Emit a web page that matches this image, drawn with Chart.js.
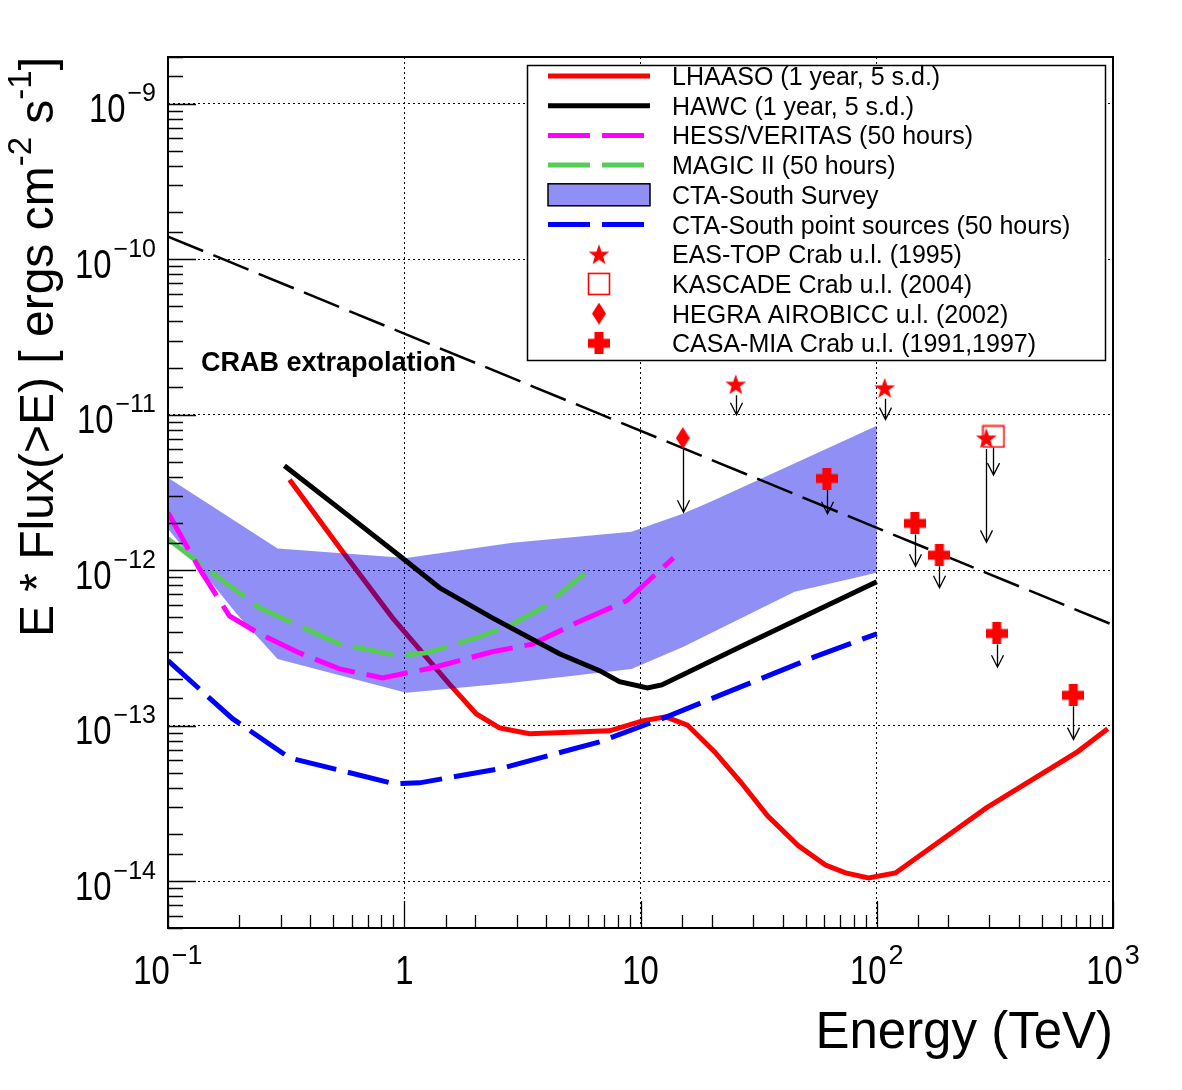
<!doctype html>
<html>

<head>
  <title>Gamma-ray sensitivity</title>
  <script src="https://cdn.jsdelivr.net/npm/chart.js@4.4.1/dist/chart.umd.min.js"></script>
  <style>
    html, body {
      margin: 0;
      padding: 0;
      background: #fff;
    }
    canvas {
      display: block;
    }
  </style>
</head>

<body>
  <canvas id="myChart" width="1182" height="1090"></canvas>

  <script>
    // energies in TeV, E*Flux(>E) in erg cm^-2 s^-1
    var lhaasoE = [0.327, 0.532, 0.892, 1.55, 2.02, 2.53, 3.39, 7.39, 10.2, 12.8, 15.8, 20.6, 26.5, 34.5, 46.6, 60.7, 73.8, 92.3, 120, 291, 707, 950];
    var lhaasoF = [3.82e-12, 1.40e-12, 4.94e-13, 1.86e-13, 1.19e-13, 9.69e-14, 8.87e-14, 9.27e-14, 1.075e-13, 1.14e-13, 1.01e-13, 6.79e-14, 4.36e-14, 2.63e-14, 1.69e-14, 1.27e-14, 1.13e-14, 1.05e-14, 1.13e-14, 2.96e-14, 6.79e-14, 9.55e-14];

    var hawcE = [0.311, 0.532, 0.955, 1.41, 2.36, 4.54, 6.71, 8.15, 10.7, 12.3, 26.5, 100];
    var hawcF = [4.70e-12, 2.49e-12, 1.24e-12, 7.71e-13, 4.94e-13, 2.90e-13, 2.26e-13, 1.92e-13, 1.75e-13, 1.83e-13, 3.22e-13, 8.43e-13];

    var hessE = [0.1, 0.136, 0.182, 0.244, 0.360, 0.532, 0.809, 1.317, 2.36, 3.49, 5.36, 8.72, 13.8];
    var hessF = [2.34e-12, 1.02e-12, 5.09e-13, 3.90e-13, 2.94e-13, 2.32e-13, 2.03e-13, 2.36e-13, 2.99e-13, 3.35e-13, 4.59e-13, 6.36e-13, 1.20e-12];

    var magicE = [0.1, 0.146, 0.244, 0.360, 0.532, 0.955, 1.242, 2.02, 2.79, 3.85, 5.79];
    var magicF = [1.59e-12, 1.02e-12, 5.74e-13, 4.39e-13, 3.35e-13, 2.82e-13, 2.94e-13, 3.68e-13, 4.39e-13, 5.74e-13, 9.49e-13];

    var ctaPointE = [0.1, 0.1875, 0.327, 0.909, 1.16, 2.53, 6.71, 12.9, 54.5, 100];
    var ctaPointF = [2.62e-13, 1.11e-13, 6.21e-14, 4.23e-14, 4.29e-14, 5.28e-14, 7.88e-14, 1.14e-13, 2.77e-13, 3.90e-13];

    var surveyUpE = [0.1, 0.291, 1.02, 2.87, 9.16, 15.1, 19.8, 34.5, 100];
    var surveyUpF = [3.94e-12, 1.38e-12, 1.20e-12, 1.50e-12, 1.77e-12, 2.31e-12, 2.76e-12, 4.06e-12, 8.51e-12];
    var surveyLoE = [0.1, 0.195, 0.291, 1.02, 2.87, 9.16, 15.2, 44.9, 100];
    var surveyLoF = [1.85e-12, 5.25e-13, 2.69e-13, 1.63e-13, 1.89e-13, 2.32e-13, 3.22e-13, 7.27e-13, 9.64e-13];

    var crabE = [0.1, 1000];
    var crabF = [1.40e-10, 4.45e-13];

    // upper limits: marker value and arrow tip
    var easE = [25.3, 108, 291];
    var easF = [1.57e-11, 1.49e-11, 7.08e-12];
    var easTo = [1.00e-11, 9.3e-12, 1.51e-12];

    var kascadeE = [312];
    var kascadeF = [7.25e-12];
    var kascadeTo = [4.09e-12];

    var hegraE = [15.1];
    var hegraF = [7.08e-12];
    var hegraTo = [2.36e-12];

    var casaE = [61.5, 145, 184, 322, 679];
    var casaF = [3.89e-12, 2.00e-12, 1.25e-12, 3.92e-13, 1.57e-13];
    var casaTo = [2.31e-12, 1.06e-12, 7.71e-13, 2.38e-13, 8.14e-14];

    var xTickValues = [0.1, 1, 10, 100, 1000];
    var xTickBase = ['10', '1', '10', '10', '10'];
    var xTickSup = ['\u22121', '', '', '2', '3'];
    var yTickExp = [-14, -13, -12, -11, -10, -9];

    var FONT = '"Liberation Sans", Arial, Helvetica, sans-serif';
    var BAND_COLOR = 'rgba(0, 0, 232, 0.44)';

    function pts(xs, ys) {
      return xs.map(function (x, i) { return {x: x, y: ys[i]}; });
    }

    function markerCanvas(w, h, draw) {
      var c = document.createElement('canvas');
      c.width = w;
      c.height = h;
      draw(c.getContext('2d'), w, h);
      return c;
    }

    var starImg = markerCanvas(24, 24, function (g, w, h) {
      g.fillStyle = '#ff0000';
      g.beginPath();
      for (var i = 0; i < 10; i++) {
        var r = i % 2 ? 4.4 : 11;
        var a = -Math.PI / 2 + i * Math.PI / 5;
        g.lineTo(w / 2 + r * Math.cos(a), h / 2 + 1 + r * Math.sin(a));
      }
      g.closePath();
      g.fill();
    });
    var squareImg = markerCanvas(24, 24, function (g) {
      g.strokeStyle = '#ff0000';
      g.lineWidth = 1.6;
      g.strokeRect(1.5, 1.5, 21, 21);
    });
    var diamondImg = markerCanvas(14, 22, function (g) {
      g.fillStyle = '#ff0000';
      g.beginPath();
      g.moveTo(7, 0);
      g.lineTo(14, 11);
      g.lineTo(7, 22);
      g.lineTo(0, 11);
      g.closePath();
      g.fill();
    });
    var crossImg = markerCanvas(22, 22, function (g) {
      g.fillStyle = '#ff0000';
      g.fillRect(0, 6.5, 22, 9);
      g.fillRect(6.5, 0, 9, 22);
    });

    function line(label, xs, ys, color, dash, width, order) {
      return {
        label: label,
        data: pts(xs, ys),
        showLine: true,
        borderColor: color,
        backgroundColor: color,
        borderWidth: width,
        borderDash: dash,
        pointRadius: 0,
        tension: 0,
        fill: false,
        order: order
      };
    }

    function marks(label, xs, ys, img) {
      return {
        label: label,
        data: pts(xs, ys),
        showLine: false,
        pointStyle: img,
        pointRadius: 10,
        order: 1
      };
    }

    var bandPoints = pts(surveyUpE, surveyUpF).concat(pts(surveyLoE, surveyLoF).reverse());

    var datasets = [
      line('LHAASO (1 year, 5 s.d.)', lhaasoE, lhaasoF, '#ff0000', [], 5, 10),
      line('HAWC (1 year, 5 s.d.)', hawcE, hawcF, '#000000', [], 5, 5),
      line('HESS/VERITAS (50 hours)', hessE, hessF, '#ff00ff', [42, 12], 5, 5),
      line('MAGIC II (50 hours)', magicE, magicF, '#55cc55', [42, 12], 5, 5),
      {
        label: 'CTA-South Survey',
        data: bandPoints,
        showLine: true,
        borderWidth: 0,
        borderColor: 'rgba(0,0,0,0)',
        backgroundColor: BAND_COLOR,
        pointRadius: 0,
        fill: 'shape',
        order: 9
      },
      line('CTA-South point sources (50 hours)', ctaPointE, ctaPointF, '#0000ff', [42, 12], 5, 5),
      marks('EAS-TOP Crab u.l. (1995)', easE, easF, starImg),
      marks('KASCADE Crab u.l. (2004)', kascadeE, kascadeF, squareImg),
      marks('HEGRA AIROBICC u.l. (2002)', hegraE, hegraF, diamondImg),
      marks('CASA-MIA Crab u.l. (1991,1997)', casaE, casaF, crossImg),
      line('Crab', crabE, crabF, '#000000', [38, 11], 2.5, 6)
    ];
    var BAND_INDEX = 4;

    var limits = [
      [easE, easF, easTo],
      [kascadeE, kascadeF, kascadeTo],
      [hegraE, hegraF, hegraTo],
      [casaE, casaF, casaTo]
    ];

    function isDecade(v) {
      var l = Math.log10(v);
      return Math.abs(l - Math.round(l)) < 1e-6;
    }

    // "10" is drawn a bit condensed, like the original labels
    function drawPower(ctx, base, sup, x, y, align, supFont, supRise) {
      var squeeze = 0.82;
      ctx.font = '40px ' + FONT;
      var bw = ctx.measureText(base).width * squeeze;
      ctx.font = supFont + 'px ' + FONT;
      var sw = sup ? ctx.measureText(sup).width + 2 : 0;
      var start = align === 'right' ? x - bw - sw : x - (bw + sw) / 2;
      ctx.textAlign = 'left';
      ctx.textBaseline = 'alphabetic';
      ctx.save();
      ctx.translate(start, y);
      ctx.scale(squeeze, 1);
      ctx.font = '40px ' + FONT;
      ctx.fillText(base, 0, 0);
      ctx.restore();
      if (sup) {
        ctx.font = supFont + 'px ' + FONT;
        ctx.fillText(sup, start + bw + 2, y - supRise);
      }
    }

    var rootStyle = {
      id: 'rootStyle',
      afterDatasetDraw: function (chart, args) {
        if (args.index !== BAND_INDEX) return;
        var ctx = chart.ctx;
        var xs = chart.scales.x, ys = chart.scales.y;
        ctx.save();
        ctx.strokeStyle = '#000';
        ctx.lineWidth = 1.3;
        limits.forEach(function (set) {
          set[0].forEach(function (e, i) {
            var px = Math.round(xs.getPixelForValue(e)) + 0.5;
            var y0 = ys.getPixelForValue(set[1][i]) + 11;
            var y1 = ys.getPixelForValue(set[2][i]);
            ctx.beginPath();
            ctx.moveTo(px, y0);
            ctx.lineTo(px, y1);
            ctx.moveTo(px - 6, y1 - 12);
            ctx.lineTo(px, y1);
            ctx.lineTo(px + 6, y1 - 12);
            ctx.stroke();
          });
        });
        ctx.restore();
      },
      afterDraw: function (chart) {
        var ctx = chart.ctx;
        var a = chart.chartArea;
        var xs = chart.scales.x, ys = chart.scales.y;
        ctx.save();
        ctx.fillStyle = '#000';
        ctx.strokeStyle = '#000';

        // inward tick marks
        ctx.lineWidth = 1.3;
        ctx.beginPath();
        ys.ticks.forEach(function (t) {
          var py = Math.round(ys.getPixelForValue(t.value)) + 0.5;
          ctx.moveTo(a.left, py);
          ctx.lineTo(a.left + (isDecade(t.value) ? 28 : 15), py);
        });
        xs.ticks.forEach(function (t) {
          var px = Math.round(xs.getPixelForValue(t.value)) + 0.5;
          ctx.moveTo(px, a.bottom);
          ctx.lineTo(px, a.bottom - (isDecade(t.value) ? 27 : 13));
        });
        ctx.stroke();

        // frame
        ctx.lineWidth = 2;
        ctx.strokeRect(a.left, a.top, a.right - a.left, a.bottom - a.top);

        // tick labels
        yTickExp.forEach(function (e) {
          var py = ys.getPixelForValue(Math.pow(10, e));
          drawPower(ctx, '10', '\u2212' + Math.abs(e), 156, py + 18.5, 'right', 25, 21);
        });
        xTickValues.forEach(function (v, i) {
          drawPower(ctx, xTickBase[i], xTickSup[i], xs.getPixelForValue(v), 984, 'center', 27, 20);
        });

        // axis titles
        ctx.font = '51px ' + FONT;
        ctx.textAlign = 'right';
        ctx.fillText('Energy (TeV)', a.right, 1048);

        ctx.save();
        ctx.translate(53, 57);
        ctx.rotate(-Math.PI / 2);
        var parts = [
          ['E * Flux(>E) [ ergs cm', 48, 0],
          ['-2', 33, -22],
          [' s', 48, 0],
          ['-1', 33, -22],
          [']', 48, 0]
        ];
        var total = 0;
        parts.forEach(function (p) {
          ctx.font = p[1] + 'px ' + FONT;
          total += ctx.measureText(p[0]).width;
        });
        var x0 = -total;
        ctx.textAlign = 'left';
        parts.forEach(function (p) {
          ctx.font = p[1] + 'px ' + FONT;
          ctx.fillText(p[0], x0, p[2]);
          x0 += ctx.measureText(p[0]).width;
        });
        ctx.restore();

        // crab label
        ctx.font = 'bold 27px ' + FONT;
        ctx.textAlign = 'left';
        ctx.fillText('CRAB extrapolation', 201, 371);

        // legend
        var lx = 527.5, ly = 65.5, lw = 578, lh = 295;
        ctx.fillStyle = '#fff';
        ctx.fillRect(lx, ly, lw, lh);
        ctx.lineWidth = 1.5;
        ctx.strokeRect(lx, ly, lw, lh);
        for (var i = 0; i < 10; i++) {
          var ds = chart.data.datasets[i];
          var cy = 76 + i * 29.7;
          if (ds.pointStyle && typeof ds.pointStyle === 'object') {
            var img = ds.pointStyle;
            ctx.drawImage(img, 599 - img.width / 2, cy - img.height / 2);
          } else if (ds.fill === 'shape') {
            ctx.fillStyle = ds.backgroundColor;
            ctx.fillRect(548, cy - 11, 102, 22);
            ctx.lineWidth = 1.5;
            ctx.strokeStyle = '#000';
            ctx.strokeRect(548, cy - 11, 102, 22);
          } else {
            ctx.beginPath();
            ctx.lineWidth = ds.borderWidth;
            ctx.strokeStyle = ds.borderColor;
            ctx.setLineDash(ds.borderDash);
            ctx.moveTo(548, cy);
            ctx.lineTo(650, cy);
            ctx.stroke();
            ctx.setLineDash([]);
          }
          ctx.fillStyle = '#000';
          ctx.font = '25px ' + FONT;
          ctx.textAlign = 'left';
          ctx.fillText(ds.label, 672, cy + 9);
        }
        ctx.restore();
      }
    };

    function gridColor(c) {
      return c.tick && isDecade(c.tick.value) ? '#000' : 'rgba(0,0,0,0)';
    }

    var config = {
      type: 'scatter',
      data: {datasets: datasets},
      options: {
        responsive: false,
        animation: false,
        devicePixelRatio: 1,
        layout: {padding: {top: 57, right: 69, left: 0, bottom: 0}},
        plugins: {
          legend: {display: false},
          tooltip: {enabled: false}
        },
        scales: {
          x: {
            type: 'logarithmic',
            min: 0.1,
            max: 1000,
            afterFit: function (s) { s.height = 162; },
            ticks: {display: false},
            grid: {color: gridColor, lineWidth: 1, drawTicks: false},
            border: {display: false, dash: [2, 3]}
          },
          y: {
            type: 'logarithmic',
            min: 5e-15,
            max: 2e-9,
            afterFit: function (s) { s.width = 168; },
            ticks: {display: false},
            grid: {color: gridColor, lineWidth: 1, drawTicks: false},
            border: {display: false, dash: [2, 3]}
          }
        }
      },
      plugins: [rootStyle]
    };

    window.onload = function () {
      var ctx = document.getElementById('myChart').getContext('2d');
      window.myChart = new Chart(ctx, config);
    };
  </script>
</body>

</html>
